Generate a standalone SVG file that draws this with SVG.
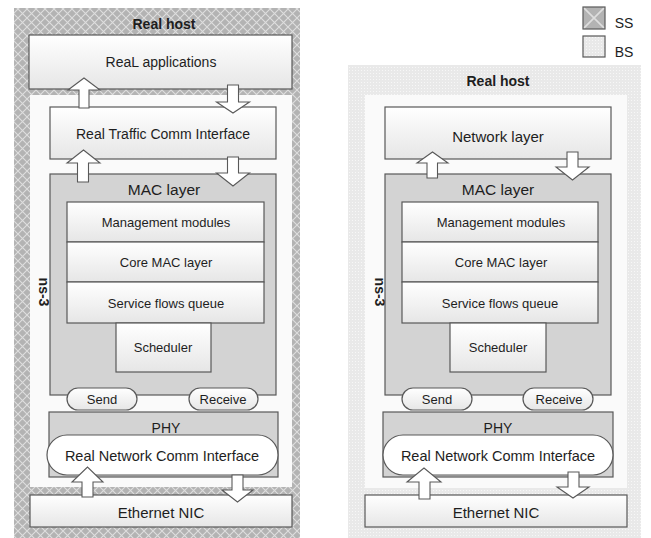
<svg xmlns="http://www.w3.org/2000/svg" width="651" height="538" viewBox="0 0 651 538">
<defs>
<pattern id="hatch" width="9" height="9" patternUnits="userSpaceOnUse">
<rect width="9" height="9" fill="#b3b3b3"/>
<path d="M0,0 L9,9 M9,0 L0,9" stroke="#dedede" stroke-width="1.1"/>
</pattern>
<pattern id="hatchBig" x="583" y="7" width="22" height="22" patternUnits="userSpaceOnUse">
<rect width="22" height="22" fill="#b3b3b3"/>
<path d="M0,0 L22,22 M22,0 L0,22" stroke="#dedede" stroke-width="1.6"/>
</pattern>
<pattern id="dots" width="3" height="3" patternUnits="userSpaceOnUse">
<rect width="3" height="3" fill="#e9e9e9"/>
<rect x="1" y="1" width="1" height="1" fill="#f7f7f7"/>
</pattern>
<linearGradient id="g1" x1="0" y1="0" x2="0" y2="1">
<stop offset="0" stop-color="#ffffff"/>
<stop offset="1" stop-color="#e6e6e6"/>
</linearGradient>
</defs>
<style>
.box{fill:url(#g1);stroke:#595959;stroke-width:1.2}
.gray{fill:#d3d3d3;stroke:#595959;stroke-width:1.2}
.pill{fill:url(#g1);stroke:#595959;stroke-width:1.2}
.arr{fill:#ffffff;stroke:#595959;stroke-width:1.1;stroke-linejoin:miter}
text{font-family:"Liberation Sans",Arial,sans-serif;fill:#1e1e1e;text-anchor:middle}
.t14{font-size:14px}
.t13{font-size:13px}
.t15{font-size:15px}
.b{font-weight:bold;font-size:14px}
</style>

<!-- Legend -->
<g id="legend">
<rect x="583" y="7" width="22" height="22" fill="url(#hatchBig)" stroke="#595959" stroke-width="1.2"/>
<text x="624" y="28" class="t14">SS</text>
<rect x="583" y="36" width="22" height="21" fill="url(#dots)" stroke="#595959" stroke-width="1.2"/>
<text x="624" y="57" class="t14">BS</text>
</g>

<!-- Left panel (SS) -->
<g id="ss-host">
<rect x="14" y="8" width="286" height="530" fill="url(#hatch)"/>
<text x="164" y="29" class="b">Real host</text>
</g>
<g id="ss-ns3">
<rect x="30" y="95" width="262" height="392" fill="#fafafa"/>
<text transform="translate(44,292) rotate(90)" dominant-baseline="central" class="b">ns-3</text>
</g>
<g id="ss-apps">
<rect class="box" x="29" y="35" width="263" height="54"/>
<text x="161" y="67" class="t14">ReaL applications</text>
</g>
<g id="ss-rtci">
<rect class="box" x="50" y="107" width="226" height="52"/>
<text x="163" y="139" class="t14">Real Traffic Comm Interface</text>
</g>
<g id="ss-mac">
<rect class="gray" x="50" y="174" width="226" height="221"/>
<text x="164" y="195" style="font-size:15.5px">MAC layer</text>
</g>
<g id="ss-mgmt">
<rect class="box" x="67" y="202" width="197" height="40"/>
<text x="166" y="227" class="t13">Management modules</text>
</g>
<g id="ss-core">
<rect class="box" x="67" y="242" width="197" height="40"/>
<text x="166" y="267" class="t13">Core MAC layer</text>
</g>
<g id="ss-sfq">
<rect class="box" x="67" y="282" width="197" height="41"/>
<text x="166" y="308" class="t13">Service flows queue</text>
</g>
<g id="ss-sched">
<rect class="box" x="116" y="323" width="95" height="49"/>
<text x="163" y="352" class="t13">Scheduler</text>
</g>
<g id="ss-phy">
<rect class="gray" x="49" y="412" width="229" height="65"/>
<text x="166" y="433" class="t14">PHY</text>
</g>
<g id="ss-send">
<rect class="pill" x="67" y="388" width="70" height="22" rx="11"/>
<text x="102" y="404" class="t13">Send</text>
</g>
<g id="ss-recv">
<rect class="pill" x="189" y="388" width="69" height="22" rx="11"/>
<text x="223" y="404" class="t13">Receive</text>
</g>
<g id="ss-rnci">
<rect x="47" y="435" width="231" height="40" rx="20" fill="#ffffff" stroke="#595959" stroke-width="1.2"/>
<text x="162" y="461" style="font-size:14.5px">Real Network Comm Interface</text>
</g>
<g id="ss-nic">
<rect class="box" x="30" y="495" width="262" height="32"/>
<text x="161" y="518" class="t15">Ethernet NIC</text>
</g>

<!-- Right panel (BS) -->
<g id="bs-host">
<rect x="348" y="65" width="293" height="473" fill="url(#dots)"/>
<text x="498" y="86" class="b">Real host</text>
</g>
<g id="bs-ns3">
<rect x="365" y="95" width="262" height="393" fill="#fafafa"/>
<text transform="translate(380,292) rotate(90)" dominant-baseline="central" class="b">ns-3</text>
</g>
<g id="bs-net">
<rect class="box" x="385" y="107" width="226" height="52"/>
<text x="498" y="142" class="t15">Network layer</text>
</g>
<g id="bs-mac">
<rect class="gray" x="385" y="174" width="226" height="221"/>
<text x="498" y="195" style="font-size:15.5px">MAC layer</text>
</g>
<g id="bs-mgmt">
<rect class="box" x="402" y="202" width="196" height="40"/>
<text x="501" y="227" class="t13">Management modules</text>
</g>
<g id="bs-core">
<rect class="box" x="402" y="242" width="196" height="40"/>
<text x="501" y="267" class="t13">Core MAC layer</text>
</g>
<g id="bs-sfq">
<rect class="box" x="402" y="282" width="196" height="41"/>
<text x="500" y="308" class="t13">Service flows queue</text>
</g>
<g id="bs-sched">
<rect class="box" x="450" y="323" width="96" height="49"/>
<text x="498" y="352" class="t13">Scheduler</text>
</g>
<g id="bs-phy">
<rect class="gray" x="383" y="412" width="230" height="65"/>
<text x="498" y="433" class="t14">PHY</text>
</g>
<g id="bs-send">
<rect class="pill" x="402" y="388" width="70" height="22" rx="11"/>
<text x="437" y="404" class="t13">Send</text>
</g>
<g id="bs-recv">
<rect class="pill" x="523" y="388" width="70" height="22" rx="11"/>
<text x="559" y="404" class="t13">Receive</text>
</g>
<g id="bs-rnci">
<rect x="383" y="435" width="230" height="40" rx="20" fill="#ffffff" stroke="#595959" stroke-width="1.2"/>
<text x="498" y="461" style="font-size:14.5px">Real Network Comm Interface</text>
</g>
<g id="bs-nic">
<rect class="box" x="365" y="495" width="262" height="32"/>
<text x="496" y="518" class="t15">Ethernet NIC</text>
</g>

<!-- Connectors: block arrows -->
<g id="connectors">
<!-- left -->
<path class="arr" d="M79,108 L79,90 L68,90 L84,78 L100,90 L89,90 L89,108 Z"/>
<path class="arr" d="M227.5,85 L227.5,102 L216.5,102 L233,113 L249.5,102 L238.5,102 L238.5,85 Z"/>
<path class="arr" d="M77.5,182 L77.5,163 L67,163 L83.5,150 L100,163 L88.5,163 L88.5,182 Z"/>
<path class="arr" d="M227.5,157 L227.5,173 L216.5,173 L233,186 L249.5,173 L238.5,173 L238.5,157 Z"/>
<path class="arr" d="M82,497 L82,482 L72,482 L87.5,467 L103,482 L93,482 L93,497 Z"/>
<path class="arr" d="M232,475 L232,490 L222,490 L237.5,502 L253,490 L243,490 L243,475 Z"/>
<!-- right -->
<path class="arr" d="M427,178 L427,163 L417,163 L432.5,152 L448,163 L437.5,163 L437.5,178 Z"/>
<path class="arr" d="M567,152 L567,167 L556,167 L572.5,180 L589,167 L578,167 L578,152 Z"/>
<path class="arr" d="M419,499 L419,482 L407,482 L424,468 L441,482 L430,482 L430,499 Z"/>
<path class="arr" d="M568,472 L568,487 L557,487 L573,498 L589,487 L579,487 L579,472 Z"/>
</g>
</svg>
